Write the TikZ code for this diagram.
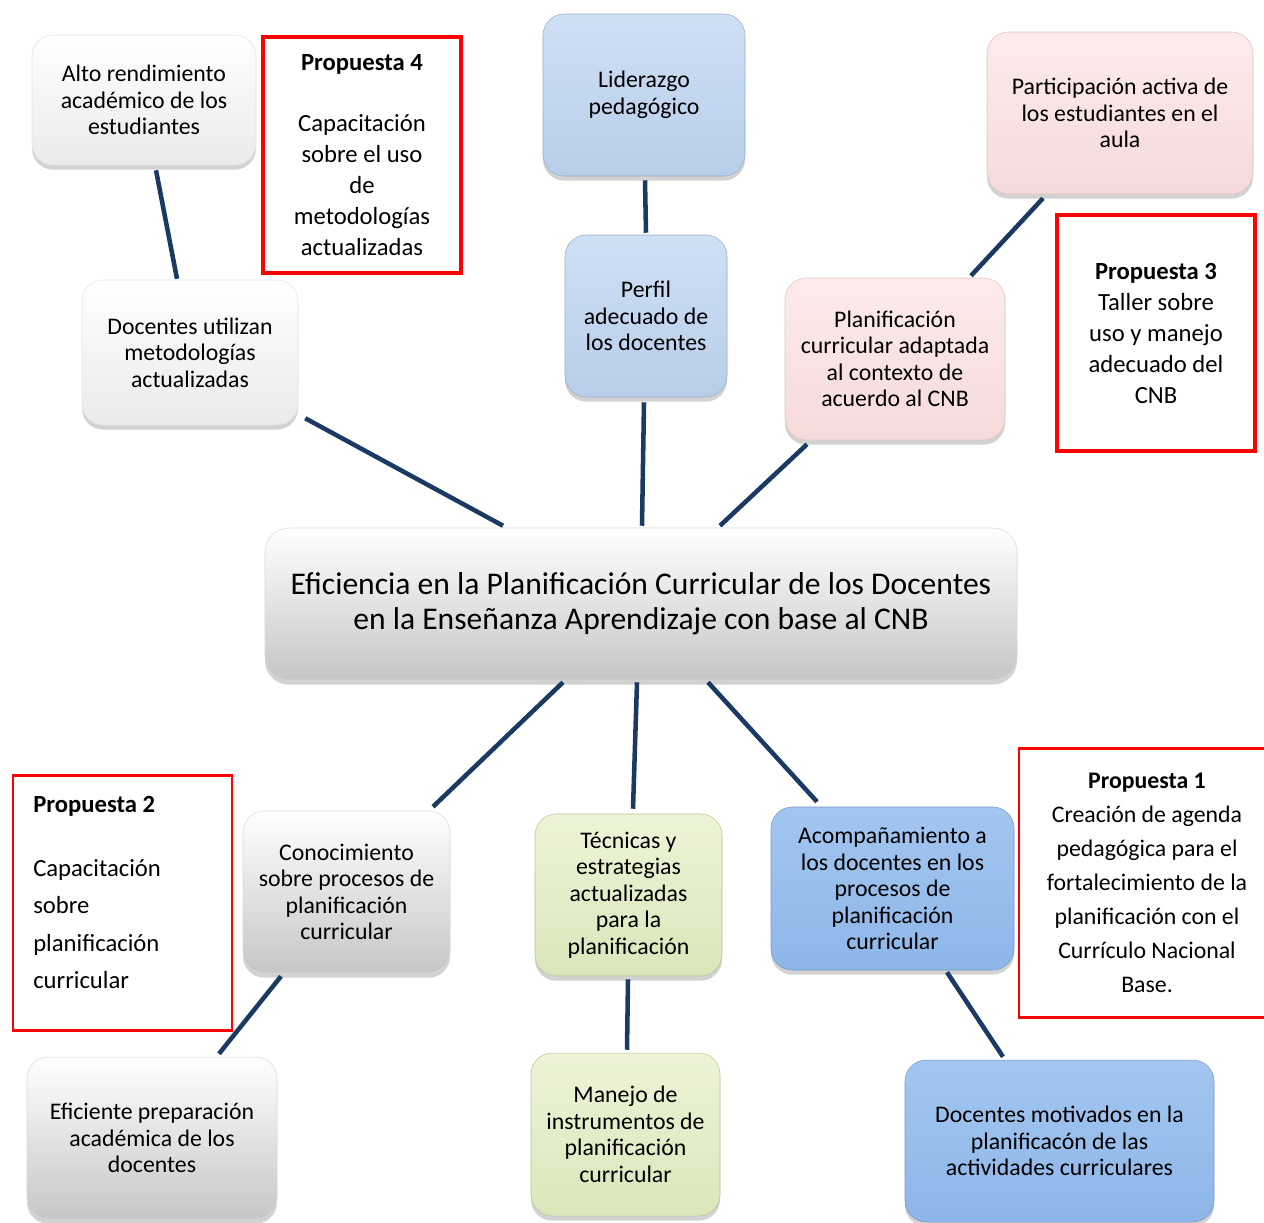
\documentclass[tikz,border=0pt]{standalone}
\usepackage{fontspec}
\setmainfont{Carlito}
\usetikzlibrary{shadows,calc}
\definecolor{navy}{HTML}{1B3A63}
\definecolor{grayB}{HTML}{C6C6C6}
\definecolor{whiteB}{HTML}{EAEAEA}
\definecolor{lblueA}{HTML}{CFE0F5}
\definecolor{lblueB}{HTML}{B7CDEA}
\definecolor{pinkA}{HTML}{FDEBEB}
\definecolor{pinkB}{HTML}{F6DADA}
\definecolor{greenA}{HTML}{EDF4D7}
\definecolor{greenB}{HTML}{DAE6BA}
\definecolor{blueA}{HTML}{A3C6F0}
\definecolor{blueB}{HTML}{8DB6E8}
\definecolor{redline}{HTML}{FF0000}
\begin{document}
\begin{tikzpicture}[x=0.75pt,y=-0.75pt,
  box/.style={rounded corners=16pt, inner sep=2pt, align=center,
    font=\fontsize{17.85pt}{19.9pt}\selectfont,
    drop shadow={shadow xshift=0pt, shadow yshift=-3.5pt, opacity=0.35}},
  whitebox/.style={box, top color=white, bottom color=whiteB, draw=black!10},
  graybox/.style={box, top color=white, bottom color=grayB, draw=black!15},
  lbluebox/.style={box, top color=lblueA, bottom color=lblueB, draw=lblueB!85!black},
  pinkbox/.style={box, top color=pinkA, bottom color=pinkB, draw=pinkB!90!black},
  greenbox/.style={box, top color=greenA, bottom color=greenB, draw=greenB!85!black},
  bluebox/.style={box, top color=blueA, bottom color=blueB, draw=blueB!85!black},
  redthick/.style={draw=redline, line width=3pt, fill=white, inner sep=2pt, align=center},
  redthin/.style={draw=redline, line width=1.8pt, fill=white, inner sep=2pt, align=center},
  conn/.style={draw=navy, line width=3.4pt}
]
\useasboundingbox (0,0) rectangle (1264,1222);
\clip (0,0) rectangle (1264,1222);
\fill[white] (0,0) rectangle (1264,1222);

% boxes
\node[whitebox, minimum width=168pt, minimum height=97.5pt] (alto) at (144,100)
  {Alto rendimiento\\académico de los\\estudiantes};
\node[redthick, minimum width=148pt, minimum height=177pt,
  font=\fontsize{18.5pt}{23.25pt}\selectfont] (p4) at (362,155)
  {\textbf{Propuesta 4}\\[22.5pt]Capacitación\\sobre el uso\\de\\metodologías\\actualizadas};
\node[whitebox, minimum width=162pt, minimum height=108.75pt] (docu) at (190,352.5)
  {Docentes utilizan\\metodologías\\actualizadas};
\node[lbluebox, minimum width=151.5pt, minimum height=121.5pt] (lider) at (644,95)
  {Liderazgo\\pedagógico};
\node[lbluebox, minimum width=121.5pt, minimum height=121.5pt] (perfil) at (646,316)
  {Perfil\\adecuado de\\los docentes};
\node[pinkbox, minimum width=199.5pt, minimum height=121.5pt] (partic) at (1120,113)
  {Participación activa de\\los estudiantes en el\\aula};
\node[pinkbox, minimum width=165pt, minimum height=121.5pt] (planif) at (895,359)
  {Planificación\\curricular adaptada\\al contexto de\\acuerdo al CNB};
\node[redthick, minimum width=148pt, minimum height=176.5pt,
  font=\fontsize{18.5pt}{23.25pt}\selectfont] (p3) at (1156,333)
  {\textbf{Propuesta 3}\\Taller sobre\\uso y manejo\\adecuado del\\CNB};
\node[graybox, rounded corners=18pt, minimum width=564pt, minimum height=114pt,
  font=\fontsize{23.7pt}{26.25pt}\selectfont] (central) at (641,604)
  {Eficiencia en la Planificación Curricular de los Docentes\\en la Enseñanza Aprendizaje con base al CNB};
\node[redthin, minimum width=164.5pt, minimum height=191pt] (p2) at (122.5,903) {};
\node[anchor=north west, inner sep=0pt, align=left,
  font=\fontsize{18.5pt}{28pt}\selectfont] (p2t) at (33,796)
  {\textbf{Propuesta 2}\\[20pt]Capacitación\\sobre\\planificación\\curricular};
\node[graybox, minimum width=155.25pt, minimum height=121.5pt] (conoc) at (346.5,892)
  {Conocimiento\\sobre procesos de\\planificación\\curricular};
\node[greenbox, minimum width=140.25pt, minimum height=121.5pt] (tecn) at (628.5,895)
  {Técnicas y\\estrategias\\actualizadas\\para la\\planificación};
\node[bluebox, minimum width=182.25pt, minimum height=122.25pt] (acomp) at (892.5,888.5)
  {Acompañamiento a\\los docentes en los\\procesos de\\planificación\\curricular};
\node[redthin, minimum width=192pt, minimum height=201.5pt,
  font=\fontsize{17.85pt}{25.5pt}\selectfont] (p1) at (1147,883)
  {\textbf{Propuesta 1}\\Creación de agenda\\pedagógica para el\\fortalecimiento de la\\planificación con el\\Currículo Nacional\\Base.};
\node[graybox, minimum width=187.5pt, minimum height=121.5pt] (efic) at (152,1138)
  {Eficiente preparación\\académica de los\\docentes};
\node[greenbox, minimum width=141.75pt, minimum height=122.25pt] (manejo) at (625.5,1134.5)
  {Manejo de\\instrumentos de\\planificación\\curricular};
\node[bluebox, minimum width=231.75pt, minimum height=121.5pt] (motiv) at (1059.5,1141)
  {Docentes motivados en la\\planificacón de las\\actividades curriculares};

% connectors
\draw[conn] ($(alto.south)+(12,5)$) -- ($(docu.north)+(-13,-1)$);
\draw[conn] ($(docu.south east)+(7,-7)$) -- ($(central.north)+(-138,-2)$);
\draw[conn] ($(lider.south)+(1,4)$) -- ($(perfil.north)+(0,-2)$);
\draw[conn] ($(perfil.south)+(-2,5)$) -- ($(central.north)+(1,-2)$);
\draw[conn] ($(partic.south)+(-77,4)$) -- ($(planif.north)+(76,-2)$);
\draw[conn] ($(planif.south)+(-88,4)$) -- ($(central.north)+(79,-2)$);
\draw[conn] ($(central.south)+(-78,2)$) -- ($(conoc.north)+(86.5,-4)$);
\draw[conn] ($(central.south)+(-4,2)$) -- ($(tecn.north)+(4.5,-5)$);
\draw[conn] ($(central.south)+(67,2)$) -- ($(acomp.north)+(-75.5,-5)$);
\draw[conn] ($(conoc.south)+(-65.5,3)$) -- ($(efic.north)+(67,-3)$);
\draw[conn] ($(tecn.south)+(-0.5,3)$) -- ($(manejo.north)+(1.5,-3)$);
\draw[conn] ($(acomp.south)+(54.5,2)$) -- ($(motiv.north)+(-56.5,-3)$);
\end{tikzpicture}
\end{document}
